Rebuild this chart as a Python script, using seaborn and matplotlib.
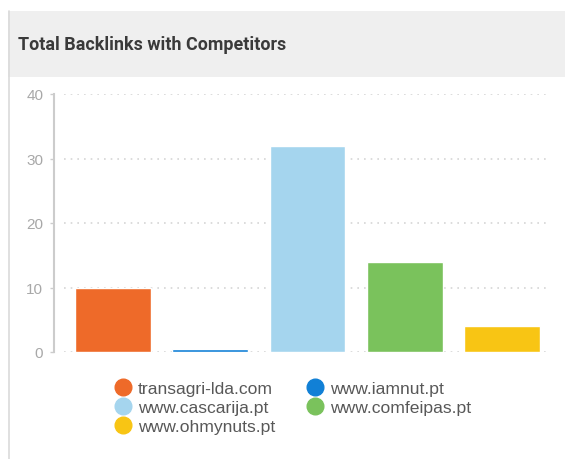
import matplotlib
matplotlib.use("Agg")
import matplotlib.pyplot as plt
from matplotlib.lines import Line2D
from matplotlib.patches import Rectangle
import seaborn as sns
import pandas as pd

title = "Total Backlinks with Competitors"
sites = ["transagri-lda.com", "www.iamnut.pt", "www.cascarija.pt", "www.comfeipas.pt", "www.ohmynuts.pt"]
backlinks = [10, 0.5, 32, 14, 4]
colors = ["#EE6A29", "#1180D6", "#A5D5EE", "#7AC25C", "#F8C514"]
yticks = [0, 10, 20, 30, 40]

W, H = 565, 460
sns.set_theme(style="white")
plt.rcParams['font.family'] = ['Liberation Sans', 'DejaVu Sans']

fig = plt.figure(figsize=(W / 100, H / 100), dpi=100)
fig.patch.set_facecolor("white")

# header panel
fig.patches.append(Rectangle((8 / W, (H - 78) / H), (W - 8) / W, 66 / H,
                             transform=fig.transFigure, facecolor="#EFEFEF",
                             edgecolor="none", zorder=0))
fig.lines.append(Line2D([8.5 / W, 8.5 / W], [0, (H - 12) / H], transform=fig.transFigure,
                        color="#DADADA", lw=1.2))
fig.text(18 / W, (H - 45) / H, title, fontsize=12.9, fontweight="bold",
         color="#3A3A3A", va="center", ha="left", family=["Roboto", "DejaVu Sans"])

# axes: x from 64 to 551 px, y0 at 353, y40 at 95
ax = fig.add_axes([64 / W, (H - 353) / H, (551 - 64) / W, (353 - 95) / H])
ax.set_facecolor("none")
df = pd.DataFrame({"site": sites, "backlinks": backlinks})
sns.barplot(data=df, x="site", y="backlinks", hue="site", palette=colors,
            width=0.78, legend=False, ax=ax, saturation=1, zorder=3)
ax.set_xlim(-0.5, 4.5)
ax.set_ylim(0, 40)
ax.set_yticks(yticks)
ax.set_yticklabels([str(t) for t in yticks], fontsize=11,
                   family=["Roboto", "DejaVu Sans"])
ax.set_xticks([])
ax.set_xlabel("")
ax.set_ylabel("")
for y in yticks:
    ax.axhline(y, color="#D5D5D5", lw=1.2, ls=(0, (1, 3)), zorder=1, xmin=0.0, xmax=0.995)
for s in ["top", "right", "bottom"]:
    ax.spines[s].set_visible(False)
ax.spines["left"].set_position(("outward", 7))
ax.spines["left"].set_color("#CCCCCC")
ax.spines["left"].set_linewidth(1.5)
ax.tick_params(axis="y", length=3, width=1, color="#CCCCCC", labelcolor="#A8A8A8",
               pad=5, left=True)

# legend (column-major order to get row layout)
order = [0, 2, 4, 1, 3]
handles = [Line2D([], [], marker="o", ls="none", markersize=12,
                  markerfacecolor=colors[i], markeredgecolor=colors[i]) for i in order]
labels = [sites[i] for i in order]
leg = fig.legend(handles, labels, ncol=2, loc="upper left",
                 bbox_to_anchor=(114 / W, (H - 382) / H), frameon=False,
                 fontsize=12.6, labelcolor="#585858", handletextpad=0.35,
                 columnspacing=1.8, labelspacing=0.22, handlelength=1.0,
                 borderaxespad=0, borderpad=0)

fig.savefig("out.png", dpi=100)
